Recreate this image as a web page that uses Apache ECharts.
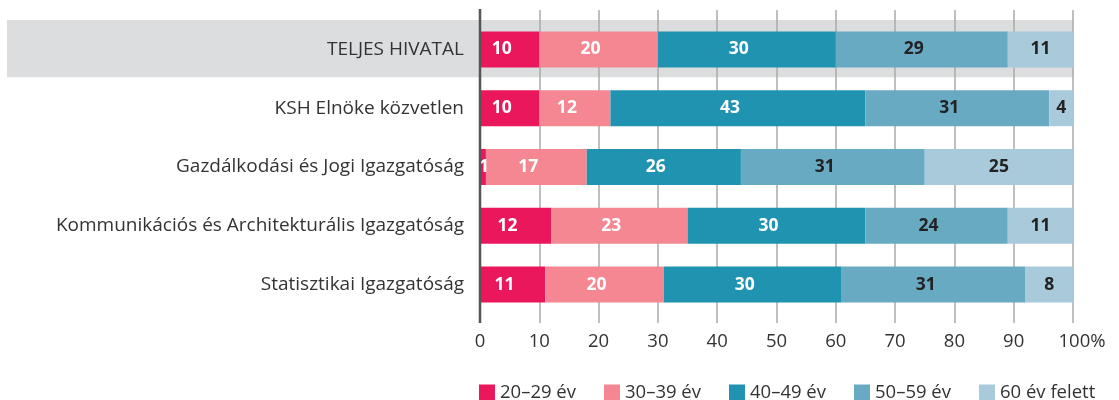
<!DOCTYPE html>
<html>
<head>
<meta charset="utf-8">
<script src="https://cdn.jsdelivr.net/npm/echarts@6/dist/echarts.min.js"></script>
<style>
  html, body { margin: 0; padding: 0; background: #fff; }
  #chart { width: 1119px; height: 400px; }
</style>
</head>
<body>
<div id="chart"></div>
<script>
// categories (top to bottom)
var categories = [
  'TELJES HIVATAL',
  'KSH Elnöke közvetlen',
  'Gazdálkodási és Jogi Igazgatóság',
  'Kommunikációs és Architekturális Igazgatóság',
  'Statisztikai Igazgatóság'
]
var seriesNames = ['20–29 év', '30–39 év', '40–49 év', '50–59 év', '60 év felett']
// percentages per category, one array per age group
var age20 = [10, 10, 1, 12, 11]
var age30 = [20, 12, 17, 23, 20]
var age40 = [30, 43, 26, 30, 30]
var age50 = [29, 31, 31, 24, 31]
var age60 = [11, 4, 25, 11, 8]
var xTicks = [0, 10, 20, 30, 40, 50, 60, 70, 80, 90, 100]

var colors = ['#EB175C', '#F48791', '#1F93B0', '#69AAC3', '#A9CADA']
var labelColors = ['#fff', '#fff', '#fff', '#222', '#222']
var FONT = 'Open Sans'

var chart = echarts.init(document.getElementById('chart'))

var allData = [age20, age30, age40, age50, age60]
var series = allData.map(function(arr, i) {
  return {
    name: seriesNames[i],
    type: 'bar',
    stack: 'total',
    barWidth: 36,
    itemStyle: { color: colors[i] },
    label: {
      show: true,
      position: 'inside',
      color: labelColors[i],
      fontFamily: FONT,
      fontWeight: 'bold',
      fontSize: 17.5,
      offset: i < 4 ? [-8, 0] : [0, 0]
    },
    data: arr.map(function(v) {
      // very thin segments keep their label centred
      return v < 3 ? { value: v, label: { offset: [1, 0] } } : v
    })
  }
})

var option = {
  animation: false,
  textStyle: { fontFamily: FONT },
  grid: { left: 480, right: 46, top: 20, height: 294 },
  legend: {
    left: 474,
    top: 378,
    icon: 'rect',
    itemWidth: 16,
    itemHeight: 16,
    itemGap: 28,
    textStyle: { fontSize: 18.5, color: '#333', fontFamily: FONT },
    data: seriesNames
  },
  xAxis: [
    {
      type: 'value',
      min: 0,
      max: 100,
      interval: 10,
      axisLine: { show: false },
      axisTick: { show: true, length: 9, lineStyle: { color: '#aaa', width: 1.5 } },
      splitLine: { show: true, lineStyle: { color: '#aaa', width: 1.5 } },
      axisLabel: {
        color: '#333',
        fontSize: 18.5,
        margin: 18,
        formatter: function(v) {
          return v === 100 ? '{p|100%}' : String(v)
        },
        rich: { p: { fontSize: 18.5, color: '#333', padding: [0, 0, 0, 18] } }
      }
    },
    {
      type: 'value',
      position: 'top',
      min: 0,
      max: 100,
      interval: 10,
      axisLine: { show: false },
      axisTick: { show: true, length: 10, lineStyle: { color: '#aaa', width: 1.5 } },
      splitLine: { show: false },
      axisLabel: { show: false }
    }
  ],
  yAxis: {
    type: 'category',
    inverse: true,
    data: categories,
    axisLine: { show: false },
    axisTick: { show: false },
    axisLabel: { color: '#333', fontSize: 19, margin: 16 }
  },
  series: series
}
chart.setOption(option)

// grey highlight band behind the first row, plus the dark zero line
var yTop = chart.convertToPixel({ yAxisIndex: 0 }, categories[0])
var x0 = chart.convertToPixel({ xAxisIndex: 0 }, 0)
var x100 = chart.convertToPixel({ xAxisIndex: 0 }, 100)
var band = 294 / categories.length
chart.setOption({
  graphic: [
    {
      type: 'rect',
      z: -10,
      shape: { x: 7, y: yTop - band / 2, width: x100 - 7, height: band - 1.5 },
      style: { fill: '#DCDDDF' }
    },
    {
      type: 'line',
      z: 100,
      shape: { x1: x0, y1: 9, x2: x0, y2: 323 },
      style: { stroke: '#555', lineWidth: 2.5 }
    }
  ]
})
</script>
</body>
</html>
